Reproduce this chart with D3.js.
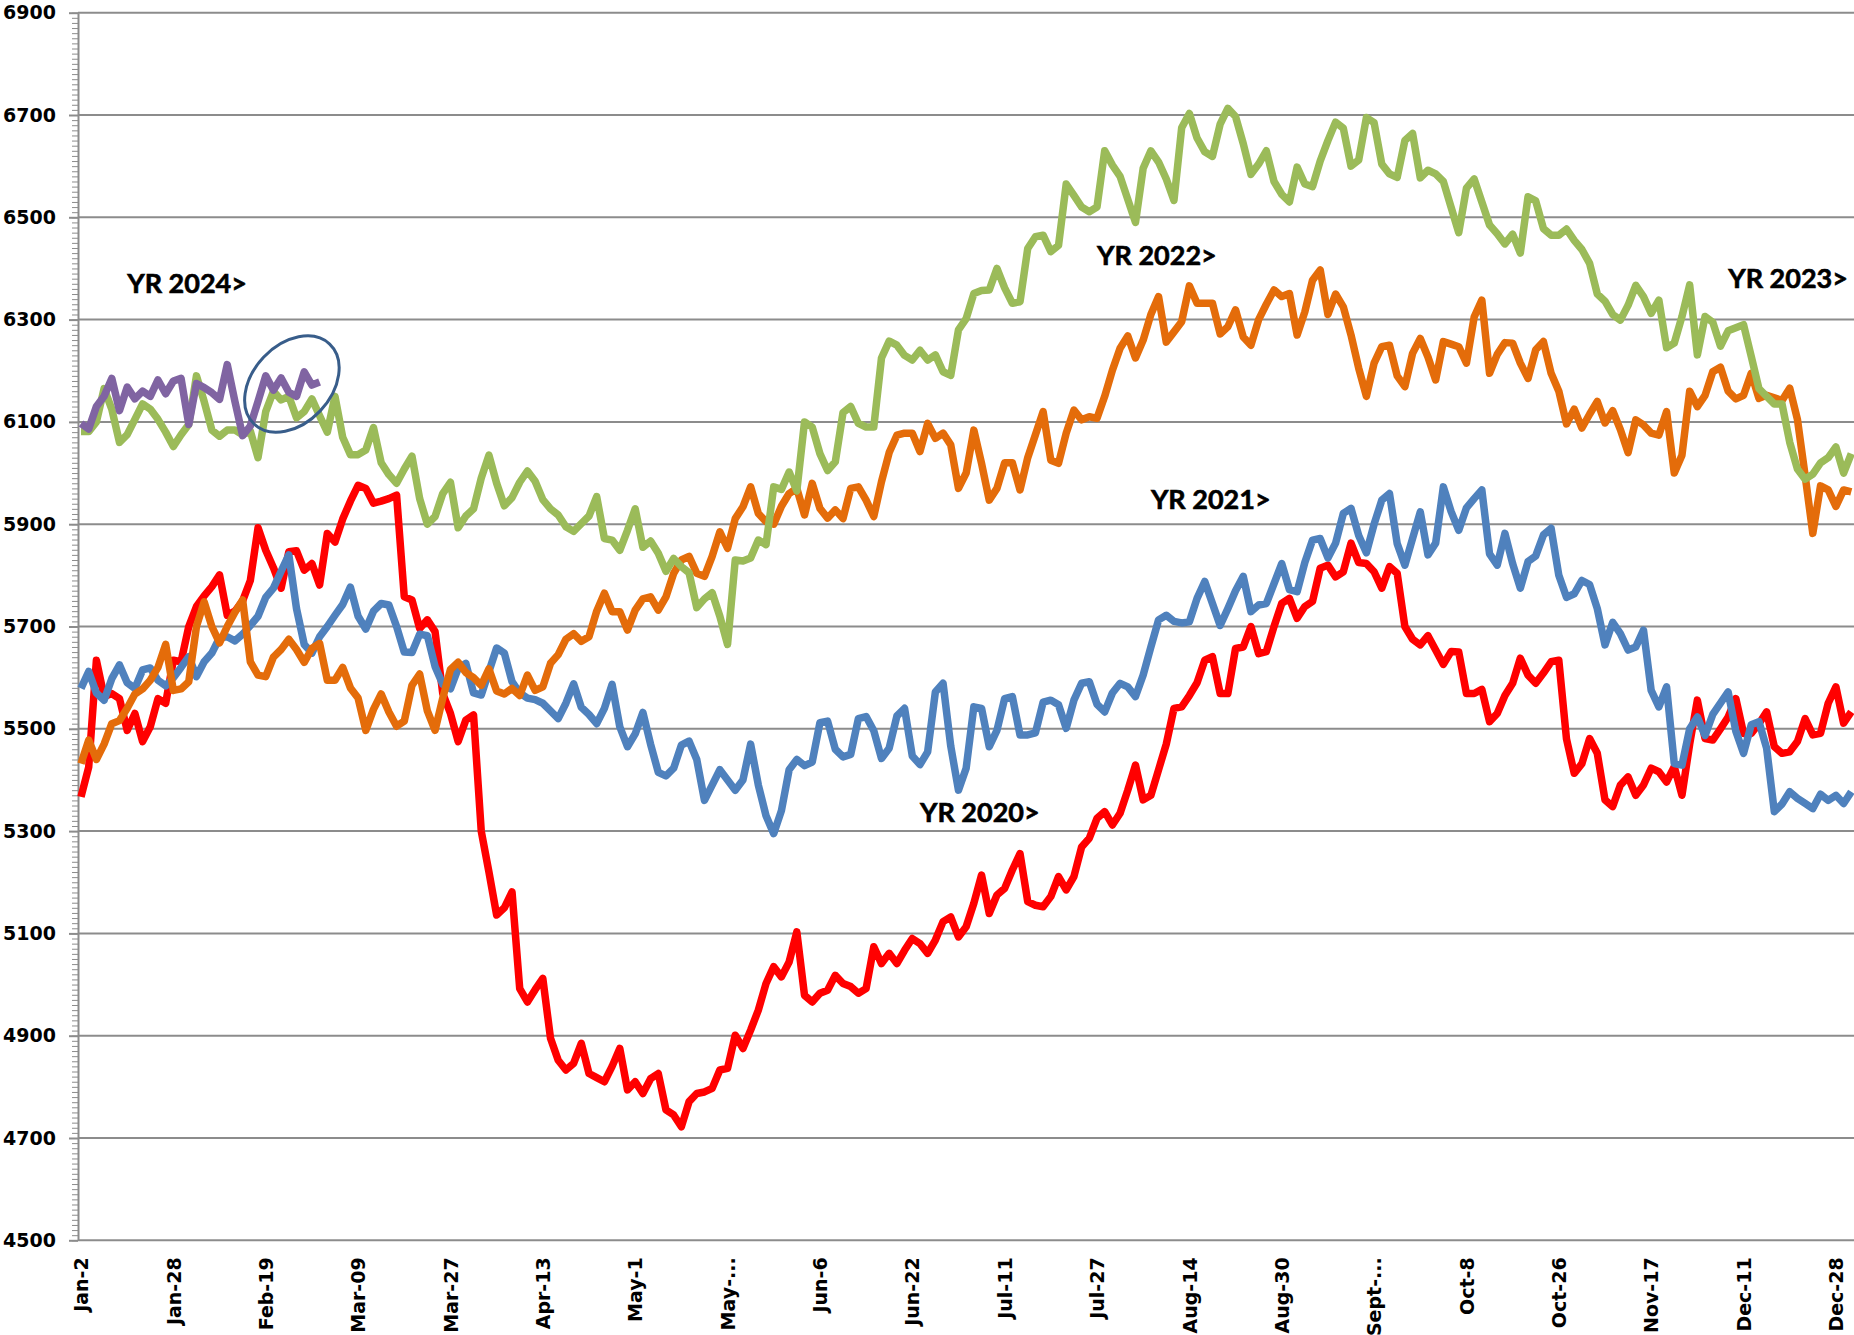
<!DOCTYPE html>
<html>
<head>
<meta charset="utf-8">
<script src="https://cdn.jsdelivr.net/npm/d3@7"></script>
<style>
body { margin: 0; background: #fff; }
#chart svg { display: block; }
.axis text { font-family: "DejaVu Sans", sans-serif; font-weight: bold; font-size: 19px; fill: #000; }
.note { font-family: Lato, sans-serif; font-weight: bold; font-size: 27px; fill: #000; stroke: #000; stroke-width: 0.6px; }
</style>
</head>
<body>
<div id="chart"></div>
<script>
// category labels shown every 12th point
const tickLabels = ["Jan-2", "Jan-28", "Feb-19", "Mar-09", "Mar-27", "Apr-13", "May-1", "May-...", "Jun-6", "Jun-22",
    "Jul-11", "Jul-27", "Aug-14", "Aug-30", "Sept-...", "Oct-8", "Oct-26", "Nov-17", "Dec-11", "Dec-28"]
const tickEvery = 12
const yTicks = [4500, 4700, 4900, 5100, 5300, 5500, 5700, 5900, 6100, 6300, 6500, 6700, 6900]

const yr2020 = [5367, 5425, 5634, 5563, 5569, 5559, 5497, 5530, 5475, 5504,
    5559, 5550, 5634, 5631, 5700, 5739, 5760, 5778, 5801, 5722,
    5730, 5750, 5790, 5893, 5849, 5815, 5775, 5846, 5848, 5810,
    5823, 5781, 5882, 5865, 5910, 5945, 5976, 5970, 5941, 5945,
    5950, 5957, 5758, 5752, 5696, 5713, 5690, 5569, 5530, 5475,
    5517, 5527, 5300, 5220, 5136, 5150, 5181, 4992, 4966, 4990,
    5012, 4895, 4852, 4833, 4846, 4885, 4826, 4818, 4810, 4840,
    4875, 4794, 4810, 4787, 4816, 4826, 4755, 4745, 4722, 4771,
    4787, 4790, 4797, 4833, 4836, 4901, 4875, 4911, 4950, 5002,
    5035, 5015, 5044, 5103, 4979, 4966, 4983, 4989, 5018, 5002,
    4996, 4983, 4992, 5074, 5041, 5061, 5041, 5067, 5090, 5080,
    5061, 5087, 5123, 5132, 5093, 5113, 5159, 5214, 5139, 5175,
    5188, 5224, 5256, 5162, 5155, 5152, 5172, 5211, 5185, 5211,
    5269, 5286, 5325, 5338, 5312, 5335, 5380, 5429, 5361, 5370,
    5420, 5470, 5540, 5543, 5565, 5590, 5634, 5641, 5569, 5569,
    5657, 5660, 5700, 5647, 5651, 5700, 5745, 5755, 5716, 5739,
    5749, 5814, 5820, 5797, 5807, 5863, 5825, 5823, 5807, 5775,
    5817, 5804, 5700, 5675, 5664, 5682, 5654, 5626, 5651, 5650,
    5569, 5569, 5577, 5514, 5530, 5565, 5589, 5638, 5605, 5589,
    5609, 5631, 5634, 5480, 5413, 5432, 5481, 5452, 5361, 5348,
    5390, 5406, 5370, 5390, 5423, 5416, 5396, 5426, 5370, 5470,
    5556, 5481, 5478, 5500, 5523, 5559, 5491, 5491, 5510, 5533,
    5465, 5452, 5455, 5475, 5520, 5488, 5491, 5550, 5582, 5511, 5533]

const yr2021 = [5579, 5612, 5570, 5556, 5598, 5625, 5590, 5579, 5615, 5619,
    5595, 5584, 5600, 5620, 5641, 5602, 5631, 5648, 5678, 5680,
    5672, 5685, 5702, 5720, 5757, 5775, 5808, 5840, 5735, 5665,
    5648, 5680, 5700, 5722, 5743, 5777, 5720, 5695, 5730, 5745,
    5742, 5700, 5650, 5649, 5685, 5682, 5622, 5587, 5578, 5618,
    5628, 5570, 5566, 5612, 5658, 5648, 5592, 5570, 5560, 5557,
    5550, 5535, 5520, 5550, 5588, 5542, 5528, 5510, 5540, 5587,
    5504, 5465, 5490, 5532, 5470, 5415, 5408, 5423, 5468, 5476,
    5440, 5360, 5390, 5420, 5400, 5380, 5400, 5470, 5390, 5330,
    5295, 5340, 5420, 5440, 5428, 5435, 5512, 5515, 5460, 5445,
    5450, 5520, 5524, 5496, 5442, 5462, 5525, 5540, 5447, 5430,
    5455, 5572, 5589, 5466, 5380, 5423, 5543, 5540, 5465, 5497,
    5559, 5563, 5488, 5488, 5492, 5552, 5556, 5547, 5501, 5556,
    5589, 5592, 5548, 5533, 5570, 5589, 5582, 5563, 5605, 5660,
    5713, 5722, 5710, 5707, 5709, 5755, 5788, 5745, 5702, 5735,
    5770, 5798, 5729, 5742, 5745, 5784, 5823, 5772, 5768, 5825,
    5869, 5872, 5834, 5863, 5921, 5931, 5878, 5844, 5900, 5947,
    5960, 5862, 5820, 5872, 5924, 5840, 5863, 5973, 5925, 5888,
    5932, 5950, 5967, 5842, 5820, 5882, 5823, 5775, 5827, 5838,
    5879, 5892, 5800, 5757, 5764, 5790, 5782, 5735, 5664, 5708,
    5686, 5654, 5660, 5693, 5575, 5543, 5582, 5432, 5429, 5500,
    5523, 5487, 5528, 5550, 5572, 5495, 5452, 5508, 5514, 5462,
    5338, 5353, 5377, 5364, 5354, 5344, 5372, 5360, 5370, 5354, 5377]

const yr2022 = [5432, 5478, 5440, 5470, 5510, 5516, 5540, 5568, 5578, 5595,
    5620, 5665, 5575, 5578, 5592, 5700, 5748, 5700, 5668, 5700,
    5728, 5752, 5631, 5605, 5602, 5640, 5655, 5675, 5655, 5630,
    5657, 5667, 5595, 5595, 5620, 5580, 5560, 5497, 5538, 5568,
    5533, 5505, 5515, 5585, 5607, 5535, 5497, 5560, 5616, 5630,
    5610, 5600, 5585, 5617, 5574, 5568, 5579, 5565, 5605, 5575,
    5582, 5628, 5645, 5675, 5686, 5671, 5680, 5730, 5765, 5729,
    5729, 5693, 5732, 5754, 5758, 5732, 5758, 5804, 5830, 5837,
    5804, 5798, 5837, 5885, 5853, 5911, 5934, 5973, 5921, 5905,
    5900, 5935, 5960, 5970, 5918, 5980, 5931, 5912, 5928, 5911,
    5970, 5973, 5947, 5915, 5983, 6040, 6074, 6078, 6078, 6042,
    6097, 6068, 6078, 6055, 5970, 6000, 6084, 6019, 5947, 5970,
    6020, 6020, 5967, 6030, 6075, 6120, 6025, 6019, 6078, 6123,
    6104, 6110, 6107, 6150, 6201, 6244, 6268, 6225, 6260, 6310,
    6345, 6256, 6276, 6296, 6366, 6332, 6332, 6332, 6272, 6286,
    6319, 6266, 6250, 6300, 6330, 6358, 6345, 6351, 6270, 6315,
    6377, 6397, 6310, 6350, 6325, 6270, 6205, 6150, 6215, 6247,
    6250, 6190, 6169, 6234, 6263, 6227, 6182, 6257, 6252, 6247,
    6215, 6305, 6338, 6195, 6232, 6255, 6254, 6215, 6185, 6241,
    6257, 6195, 6160, 6096, 6125, 6088, 6115, 6140, 6098, 6122,
    6085, 6040, 6104, 6094, 6078, 6074, 6120, 6000, 6035, 6160,
    6130, 6152, 6198, 6207, 6160, 6145, 6152, 6195, 6146, 6152,
    6147, 6142, 6166, 6105, 5995, 5882, 5975, 5967, 5935, 5967, 5963]

const yr2023 = [6081, 6081, 6100, 6165, 6125, 6060, 6075, 6105, 6135, 6125,
    6105, 6080, 6052, 6075, 6095, 6190, 6140, 6084, 6072, 6084,
    6084, 6075, 6082, 6030, 6120, 6160, 6143, 6150, 6108, 6120,
    6145, 6112, 6080, 6150, 6070, 6036, 6036, 6045, 6089, 6020,
    5997, 5980, 6008, 6033, 5950, 5900, 5915, 5960, 5982, 5893,
    5916, 5930, 5990, 6035, 5980, 5936, 5952, 5982, 6004, 5984,
    5948, 5930, 5918, 5895, 5886, 5901, 5916, 5954, 5872, 5869,
    5849, 5888, 5930, 5855, 5867, 5843, 5808, 5833, 5817, 5805,
    5737, 5754, 5766, 5720, 5665, 5830, 5828, 5834, 5869, 5860,
    5973, 5968, 6002, 5965, 6100, 6090, 6038, 6005, 6022, 6118,
    6130, 6097, 6090, 6090, 6225, 6258, 6250, 6230, 6221, 6240,
    6221, 6231, 6198, 6191, 6280, 6302, 6351, 6357, 6358, 6400,
    6362, 6332, 6335, 6439, 6462, 6465, 6433, 6445, 6565, 6543,
    6520, 6511, 6520, 6630, 6602, 6580, 6535, 6490, 6596, 6630,
    6608, 6575, 6533, 6675, 6703, 6655, 6628, 6619, 6682, 6713,
    6697, 6644, 6584, 6604, 6630, 6570, 6545, 6530, 6598, 6565,
    6560, 6610, 6650, 6686, 6674, 6600, 6612, 6695, 6685, 6604,
    6585, 6578, 6650, 6664, 6577, 6592, 6585, 6570, 6520, 6470,
    6557, 6575, 6530, 6485, 6468, 6448, 6467, 6430, 6540, 6532,
    6478, 6465, 6465, 6477, 6455, 6437, 6410, 6350, 6336, 6310,
    6299, 6328, 6367, 6345, 6312, 6338, 6245, 6254, 6306, 6368,
    6231, 6306, 6295, 6248, 6278, 6284, 6290, 6228, 6165, 6150,
    6135, 6135, 6060, 6008, 5988, 5998, 6020, 6030, 6051, 6000, 6038]

const yr2024 = [6097, 6086, 6130, 6150, 6185, 6122, 6168, 6145, 6160, 6150,
    6182, 6155, 6180, 6185, 6095, 6175, 6167, 6157, 6144, 6212,
    6140, 6073, 6092, 6140, 6190, 6162, 6186, 6158, 6150, 6198,
    6172, 6178]

// in-chart labels: text, category index, value
const noteText = ["YR 2024>", "YR 2022>", "YR 2023>", "YR 2021>", "YR 2020>"]
const noteIdx = [6, 132, 214, 139, 109]
const noteVal = [6352, 6407, 6362, 5930, 5318]

const width = 1854
const height = 1335
const axisX = 78

const svg = d3.select("#chart").append("svg").attr("width", width).attr("height", height)

const x = d3.scalePoint().domain(d3.range(yr2020.length)).range([81, 1851.3])
const y = d3.scaleLinear().domain([4500, 6900]).range([1240.3, 12.7])

// gridlines (the 4500 one doubles as the x axis line)
svg.append("g").attr("id", "grid")
    .selectAll("line").data(yTicks).join("line")
    .attr("x1", axisX).attr("x2", width)
    .attr("y1", d => y(d)).attr("y2", d => y(d))
    .attr("stroke", "#8c8c8c").attr("stroke-width", 2)

// minor ticks on the value axis
const minorAxis = svg.append("g").attr("transform", `translate(${axisX}, 0)`)
    .call(d3.axisLeft(y).tickValues(d3.range(4500, 6901, 10)).tickSize(6).tickFormat(""))
minorAxis.select(".domain").remove()
minorAxis.selectAll("line").attr("stroke", "#8c8c8c").attr("stroke-width", 1)

const yAxisGroup = svg.append("g").attr("class", "axis").attr("transform", `translate(${axisX}, 0)`)
    .call(d3.axisLeft(y).tickValues(yTicks).tickSize(9).tickSizeOuter(0).tickPadding(13).tickFormat(d3.format("d")))
yAxisGroup.select(".domain").attr("stroke", "#8c8c8c").attr("stroke-width", 2)
yAxisGroup.selectAll(".tick line").attr("stroke", "#8c8c8c").attr("stroke-width", 2)

const xAxisGroup = svg.append("g").attr("class", "axis").attr("transform", `translate(0, ${y(4500)})`)
    .call(d3.axisBottom(x).tickValues(d3.range(0, yr2020.length, tickEvery)).tickSize(0)
        .tickFormat(i => tickLabels[i / tickEvery]))
xAxisGroup.select(".domain").remove()
xAxisGroup.selectAll("text")
    .attr("transform", "rotate(-90)")
    .attr("text-anchor", "end")
    .attr("x", -17).attr("y", 0).attr("dy", "0.35em")

const line = d3.line().x((d, i) => x(i)).y(d => y(d))

const series = [
    {name: "2020", values: yr2020, colour: "#ff0000"},
    {name: "2021", values: yr2021, colour: "#4f81bd"},
    {name: "2022", values: yr2022, colour: "#e46c0a"},
    {name: "2023", values: yr2023, colour: "#9bbb59"},
    {name: "2024", values: yr2024, colour: "#8064a2"}
]

svg.append("g").attr("id", "lines")
    .selectAll("path").data(series).join("path")
    .attr("d", d => line(d.values))
    .attr("fill", "none")
    .attr("stroke", d => d.colour)
    .attr("stroke-width", 7.5)
    .attr("stroke-linejoin", "round")

svg.append("g").attr("id", "notes")
    .selectAll("text").data(noteText).join("text")
    .attr("class", "note")
    .attr("x", (d, i) => x(noteIdx[i]))
    .attr("y", (d, i) => y(noteVal[i]))
    .text(d => d)

// circle drawn round the latest 2024 points
const cx = x(27) + 0.4 * x.step()
const cy = y(6174)
svg.append("ellipse")
    .attr("cx", cx).attr("cy", cy)
    .attr("rx", 55).attr("ry", 39)
    .attr("transform", `rotate(-46.6, ${cx}, ${cy})`)
    .attr("fill", "none")
    .attr("stroke", "#385d8a")
    .attr("stroke-width", 3)
</script>
</body>
</html>
